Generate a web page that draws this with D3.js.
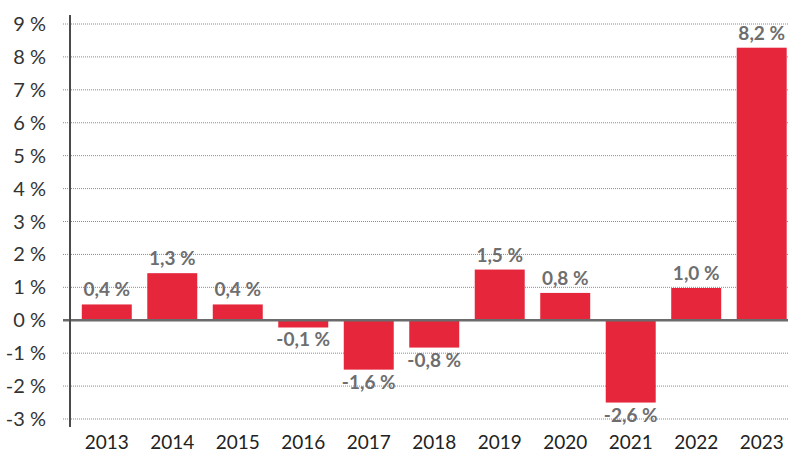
<!DOCTYPE html>
<html lang="de">
  <head>
    <meta charset="utf-8">
    <title>Veränderung gegenüber Vorjahr</title>
    <style>
      body { margin: 0; background: #fff; }
      svg { display: block; }
    </style>
    <script src="https://d3js.org/d3.v7.min.js"></script>
  </head>
  <body>
    <div class="chart"></div>
    <script>
    // bar heights as drawn, and the labels printed on them
    const years = ["2013","2014","2015","2016","2017","2018","2019","2020","2021","2022","2023"]
    const values = [0.48, 1.43, 0.48, -0.22, -1.5, -0.83, 1.54, 0.83, -2.5, 0.98, 8.28]
    const labels = ["0,4 %","1,3 %","0,4 %","-0,1 %","-1,6 %","-0,8 %","1,5 %","0,8 %","-2,6 %","1,0 %","8,2 %"]
    const yTicks = [-3,-2,-1,0,1,2,3,4,5,6,7,8,9]

    const width = 788, height = 454
    const font = "Lato, 'Open Sans', sans-serif"

    const svg = d3.select(".chart")
      .append("svg")
      .attr("width", width)
      .attr("height", height)

    const x = d3.scaleBand()
      .domain(years)
      .range([70, 788])
      .paddingInner(0.237)
      .paddingOuter(0.1)
      .align(0.9)

    const y = d3.scaleLinear()
      .domain([-3, 9])
      .range([419, 24])

    // dotted grid
    svg.append("g")
      .selectAll("line")
      .data(yTicks.filter(d => d != 0))
      .join("line")
      .attr("x1", 63)
      .attr("x2", width)
      .attr("y1", d => y(d))
      .attr("y2", d => y(d))
      .attr("stroke", "#8a8a8a")
      .attr("stroke-width", 1)
      .attr("stroke-dasharray", "1,1")

    // y tick labels
    svg.append("g")
      .selectAll("text")
      .data(yTicks)
      .join("text")
      .attr("x", 46)
      .attr("y", d => y(d) + 7)
      .attr("text-anchor", "end")
      .style("font-family", font)
      .style("font-size", "20px")
      .style("fill", "#333")
      .text(d => d + " %")

    // bars
    svg.append("g")
      .selectAll("rect")
      .data(values)
      .join("rect")
      .attr("x", (d, i) => x(years[i]))
      .attr("y", d => y(Math.max(0, d)))
      .attr("width", x.bandwidth())
      .attr("height", d => Math.abs(y(d) - y(0)))
      .attr("fill", "#e5263b")

    // zero line
    svg.append("line")
      .attr("x1", 63)
      .attr("x2", width)
      .attr("y1", y(0))
      .attr("y2", y(0))
      .attr("stroke", "#6b6b6b")
      .attr("stroke-width", 2.5)

    // y axis line
    svg.append("line")
      .attr("x1", 70)
      .attr("x2", 70)
      .attr("y1", 15)
      .attr("y2", 427)
      .attr("stroke", "#4a4a4a")
      .attr("stroke-width", 2)

    // value labels
    svg.append("g")
      .selectAll("text")
      .data(values)
      .join("text")
      .attr("x", (d, i) => x(years[i]) + x.bandwidth() / 2)
      .attr("y", d => d >= 0 ? y(d) - 8 : y(d) + 19)
      .attr("text-anchor", "middle")
      .style("font-family", font)
      .style("font-weight", "bold")
      .style("font-size", "19px")
      .style("fill", "#6e6e6e")
      .text((d, i) => labels[i])

    // year labels
    svg.append("g")
      .selectAll("text")
      .data(years)
      .join("text")
      .attr("x", d => x(d) + x.bandwidth() / 2)
      .attr("y", 449)
      .attr("text-anchor", "middle")
      .style("font-family", font)
      .style("font-size", "19px")
      .style("fill", "#222")
      .text(d => d)
    </script>
  </body>
</html>
